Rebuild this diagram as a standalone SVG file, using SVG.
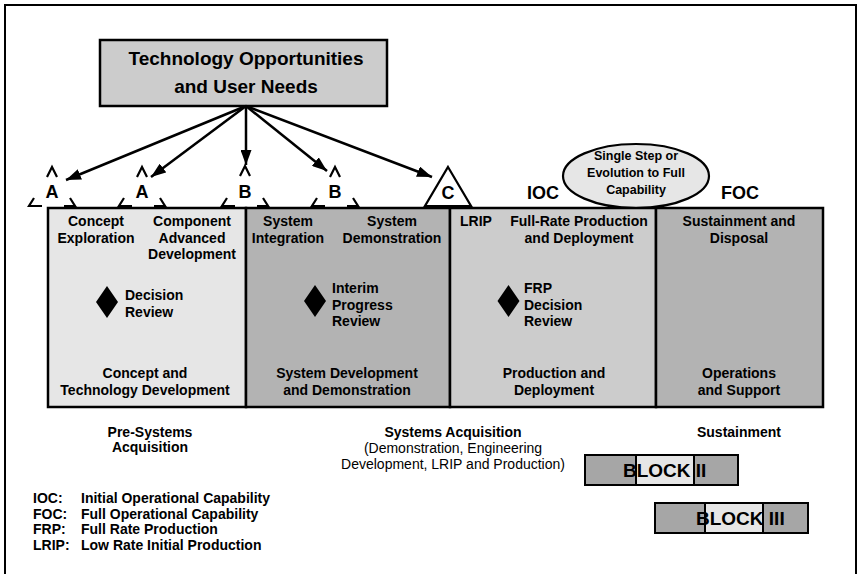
<svg xmlns="http://www.w3.org/2000/svg" width="861" height="574" viewBox="0 0 861 574">
<defs>
<marker id="ah" markerUnits="userSpaceOnUse" markerWidth="15" markerHeight="11" refX="15" refY="5.5" orient="auto">
<path d="M0,0 L15,5.5 L0,11 z" fill="#000"/>
</marker>
<style>
text{font-family:"Liberation Sans",Arial,sans-serif;font-weight:bold;fill:#000}
.t14{font-size:14px}
.mid{text-anchor:middle}
.norm{font-weight:normal}
.ms{font-size:18px;text-anchor:middle}
.box{stroke:#000;stroke-width:2.5}
.dash{fill:none;stroke:#000;stroke-width:2.2}
.conn{stroke:#000;stroke-width:2.5;fill:none;marker-end:url(#ah)}
</style>
</defs>
<rect width="861" height="574" fill="#fff"/>
<rect x="5" y="5" width="851" height="580" fill="none" stroke="#000" stroke-width="2"/>

<g id="top-node">
<rect x="100" y="40" width="287" height="66" fill="#cccccc" class="box"/>
<text x="246" y="65" class="mid" font-size="19">Technology Opportunities</text>
<text x="246" y="93" class="mid" font-size="19">and User Needs</text>
</g>

<g id="connectors">
<line x1="246" y1="106" x2="66" y2="180" class="conn"/>
<line x1="246" y1="106" x2="151" y2="177" class="conn"/>
<line x1="246" y1="106" x2="246" y2="165" class="conn"/>
<line x1="246" y1="106" x2="327" y2="171" class="conn"/>
<line x1="246" y1="106" x2="432" y2="177" class="conn"/>
</g>

<g id="milestone-A1">
<path class="dash" d="M47,177 L52,167 L57,177 M34,198 L29,206 L42,206 M70,198 L75,206 L64,206"/>
<text x="52" y="198" class="ms">A</text>
</g>
<g id="milestone-A2">
<path class="dash" d="M137,177 L142,167 L147,177 M124,198 L119,206 L132,206 M160,198 L165,206 L154,206"/>
<text x="142" y="198" class="ms">A</text>
</g>
<g id="milestone-B1">
<path class="dash" d="M240,176 L245,166 L250,176 M227,198 L222,206 L235,206 M263,198 L268,206 L257,206"/>
<text x="245" y="198" class="ms">B</text>
</g>
<g id="milestone-B2">
<path class="dash" d="M330,177 L335,167 L340,177 M317,198 L312,206 L325,206 M353,198 L358,206 L347,206"/>
<text x="335" y="198" class="ms">B</text>
</g>
<g id="milestone-C">
<path d="M448,167 L471,206 L425,206 Z" fill="#fff" stroke="#000" stroke-width="2.2"/>
<text x="448" y="199" class="ms">C</text>
</g>

<g id="IOC"><text x="543" y="199" class="mid" font-size="18">IOC</text></g>
<g id="FOC"><text x="740" y="199" class="mid" font-size="18">FOC</text></g>

<g id="evolution">
<ellipse cx="636" cy="176" rx="73" ry="32" fill="#e6e6e6" stroke="#000" stroke-width="2.2"/>
<text x="636" y="160" class="mid" font-size="12.5">Single Step or</text>
<text x="636" y="177" class="mid" font-size="12.5">Evolution to Full</text>
<text x="636" y="194" class="mid" font-size="12.5">Capability</text>
</g>

<g id="phase-concept">
<rect x="48" y="208" width="198" height="199" fill="#e6e6e6" class="box"/>
<text x="96" y="226" class="t14 mid">Concept</text>
<text x="96" y="242.5" class="t14 mid">Exploration</text>
<text x="192" y="226" class="t14 mid">Component</text>
<text x="192" y="242.5" class="t14 mid">Advanced</text>
<text x="192" y="259" class="t14 mid">Development</text>
<path d="M107,286 L118,302 L107,318 L96,302 Z" fill="#000"/>
<text x="125" y="300" class="t14">Decision</text>
<text x="125" y="316.5" class="t14">Review</text>
<text x="145" y="378" class="t14 mid">Concept and</text>
<text x="145" y="394.5" class="t14 mid">Technology Development</text>
</g>

<g id="phase-sdd">
<rect x="246" y="208" width="204" height="199" fill="#b3b3b3" class="box"/>
<text x="288" y="226" class="t14 mid">System</text>
<text x="288" y="242.5" class="t14 mid">Integration</text>
<text x="392" y="226" class="t14 mid">System</text>
<text x="392" y="242.5" class="t14 mid">Demonstration</text>
<path d="M315,285 L326,301 L315,317 L304,301 Z" fill="#000"/>
<text x="332" y="293" class="t14">Interim</text>
<text x="332" y="309.5" class="t14">Progress</text>
<text x="332" y="326" class="t14">Review</text>
<text x="347" y="378" class="t14 mid">System Development</text>
<text x="347" y="394.5" class="t14 mid">and Demonstration</text>
</g>

<g id="phase-production">
<rect x="450" y="208" width="206" height="199" fill="#cccccc" class="box"/>
<text x="460" y="226" class="t14">LRIP</text>
<text x="579" y="226" class="t14 mid">Full-Rate Production</text>
<text x="579" y="242.5" class="t14 mid">and Deployment</text>
<path d="M508.5,285 L519.5,301 L508.5,317 L497.5,301 Z" fill="#000"/>
<text x="524" y="293" class="t14">FRP</text>
<text x="524" y="309.5" class="t14">Decision</text>
<text x="524" y="326" class="t14">Review</text>
<text x="554" y="378" class="t14 mid">Production and</text>
<text x="554" y="394.5" class="t14 mid">Deployment</text>
</g>

<g id="phase-support">
<rect x="656" y="208" width="167" height="199" fill="#b3b3b3" class="box"/>
<text x="739" y="226" class="t14 mid">Sustainment and</text>
<text x="739" y="242.5" class="t14 mid">Disposal</text>
<text x="739" y="378" class="t14 mid">Operations</text>
<text x="739" y="394.5" class="t14 mid">and Support</text>
</g>

<g id="labels">
<text x="150" y="437" class="t14 mid">Pre-Systems</text>
<text x="150" y="452" class="t14 mid">Acquisition</text>
<text x="453" y="437" class="t14 mid">Systems Acquisition</text>
<text x="453" y="453" class="t14 mid norm">(Demonstration, Engineering</text>
<text x="453" y="469" class="t14 mid norm">Development, LRIP and Production)</text>
<text x="739" y="437" class="t14 mid">Sustainment</text>
</g>

<g id="block-II">
<rect x="585" y="455" width="153" height="30" fill="#a6a6a6" stroke="#000" stroke-width="2"/>
<rect x="636" y="455" width="58" height="30" fill="#e6e6e6" stroke="#000" stroke-width="2"/>
<text x="623" y="477" font-size="19">BLOCK II</text>
</g>
<g id="block-III">
<rect x="655" y="503" width="153" height="30" fill="#a6a6a6" stroke="#000" stroke-width="2"/>
<rect x="705" y="503" width="58" height="30" fill="#e6e6e6" stroke="#000" stroke-width="2"/>
<text x="696" y="525" font-size="19">BLOCK III</text>
</g>

<g id="legend">
<text x="33" y="503" class="t14">IOC:</text><text x="81" y="503" class="t14">Initial Operational Capability</text>
<text x="33" y="518.5" class="t14">FOC:</text><text x="81" y="518.5" class="t14">Full Operational Capability</text>
<text x="33" y="534" class="t14">FRP:</text><text x="81" y="534" class="t14">Full Rate Production</text>
<text x="33" y="549.5" class="t14">LRIP:</text><text x="81" y="549.5" class="t14">Low Rate Initial Production</text>
</g>
</svg>
